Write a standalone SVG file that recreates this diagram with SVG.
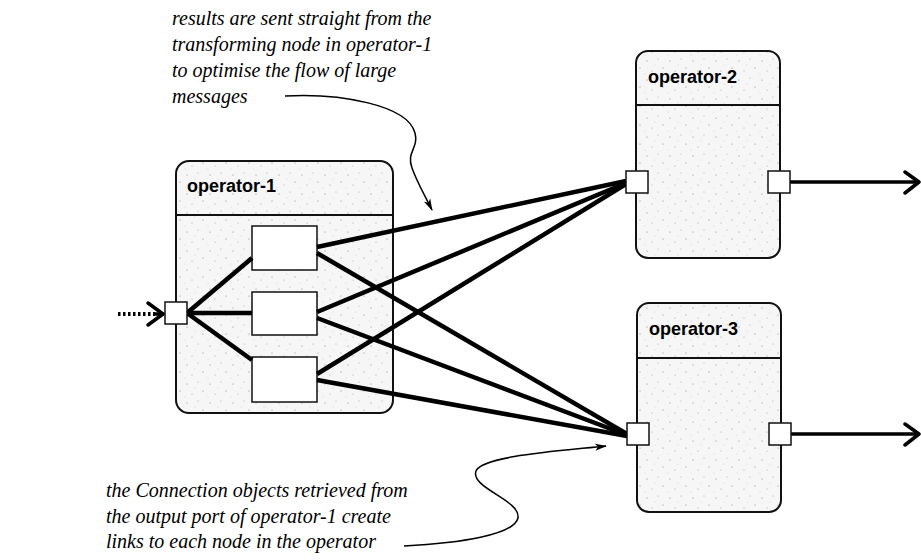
<svg xmlns="http://www.w3.org/2000/svg" width="921" height="560" viewBox="0 0 921 560">
<defs>
<pattern id="stip" width="23" height="19" patternUnits="userSpaceOnUse">
<rect width="23" height="19" fill="#f6f6f6"/>
<circle cx="3" cy="4" r="0.6" fill="#8a8a8a"/>
<circle cx="14" cy="2" r="0.5" fill="#a0a0a0"/>
<circle cx="19" cy="11" r="0.6" fill="#8a8a8a"/>
<circle cx="8" cy="14" r="0.5" fill="#999"/>
<circle cx="11" cy="8" r="0.4" fill="#b0b0b0"/>
<circle cx="1" cy="17" r="0.4" fill="#b0b0b0"/>
</pattern>
<marker id="ah" markerWidth="12" markerHeight="8" refX="11" refY="4" orient="auto" markerUnits="userSpaceOnUse">
<path d="M0,0.5 L12,4 L0,7.5 L3,4 Z" fill="#000"/>
</marker>
<style>
.op{fill:url(#stip);stroke:#111;stroke-width:2}
.div{stroke:#111;stroke-width:2}
.title{font-family:"Liberation Sans",Arial,sans-serif;font-weight:bold;font-size:18px;fill:#000}
.port{fill:#fff;stroke:#111;stroke-width:1.5}
.inner{fill:#fff;stroke:#111;stroke-width:1.5}
.conn{stroke:#000;stroke-width:4.5;fill:none}
.arrow{stroke:#000;stroke-width:3.5;fill:none;stroke-linecap:round;stroke-linejoin:round}
.note{font-family:"Liberation Serif","Times New Roman",serif;font-style:italic;font-size:20px;fill:#000}
.lead{stroke:#000;stroke-width:1.5;fill:none}
</style>
</defs>
<rect width="921" height="560" fill="#fff"/>

<g id="operator-1">
<rect class="op" x="176" y="161" width="217" height="252" rx="13"/>
<line class="div" x1="176" y1="215" x2="393" y2="215"/>
<text class="title" x="187" y="192">operator-1</text>
<rect class="inner" x="252" y="226" width="65" height="44"/>
<rect class="inner" x="252" y="292" width="65" height="43"/>
<rect class="inner" x="252" y="357" width="65" height="45"/>
</g>

<g id="operator-2">
<rect class="op" x="636" y="51" width="144" height="207" rx="12"/>
<line class="div" x1="636" y1="105" x2="780" y2="105"/>
<text class="title" x="648" y="83">operator-2</text>
</g>

<g id="operator-3">
<rect class="op" x="637" y="303" width="144" height="209" rx="12"/>
<line class="div" x1="637" y1="358" x2="781" y2="358"/>
<text class="title" x="649" y="335">operator-3</text>
</g>

<g id="connectors">
<line x1="118" y1="314" x2="156" y2="314" stroke="#000" stroke-width="4" stroke-dasharray="2.5 2.5"/>
<line class="arrow" x1="156" y1="314" x2="163" y2="314"/>
<polyline class="arrow" points="148,303 163,314 148,325"/>
<line class="conn" x1="187" y1="313" x2="252" y2="258"/>
<line class="conn" x1="187" y1="313" x2="252" y2="313"/>
<line class="conn" x1="187" y1="313" x2="252" y2="360"/>
<line class="conn" x1="317" y1="247" x2="626" y2="181"/>
<line class="conn" x1="317" y1="253" x2="627" y2="434"/>
<line class="conn" x1="317" y1="312" x2="626" y2="183"/>
<line class="conn" x1="317" y1="318" x2="627" y2="435"/>
<line class="conn" x1="317" y1="374" x2="626" y2="184"/>
<line class="conn" x1="317" y1="380" x2="627" y2="436"/>
<line class="arrow" x1="791" y1="182" x2="918" y2="182"/>
<polyline class="arrow" points="905,172 919,182 905,193"/>
<line class="arrow" x1="792" y1="434" x2="918" y2="434"/>
<polyline class="arrow" points="905,424 919,434 905,445"/>
</g>

<g id="ports">
<rect class="port" x="165" y="302" width="22" height="22"/>
<rect class="port" x="626" y="171" width="22" height="22"/>
<rect class="port" x="768" y="171" width="22" height="22"/>
<rect class="port" x="627" y="423" width="22" height="22"/>
<rect class="port" x="769" y="423" width="22" height="22"/>
</g>

<g id="note-top">
<text class="note" x="172" y="25">results are sent straight from the</text>
<text class="note" x="172" y="51">transforming node in operator-1</text>
<text class="note" x="172" y="77">to optimise the flow of large</text>
<text class="note" x="172" y="103">messages</text>
<path class="lead" d="M285,96 C340,93 408,105 415,133 C419,148 406,152 412,168 C417,182 423,192 432,210" marker-end="url(#ah)"/>
</g>

<g id="note-bottom">
<text class="note" x="106" y="497">the Connection objects retrieved from</text>
<text class="note" x="106" y="523">the output port of operator-1 create</text>
<text class="note" x="106" y="548">links to each node in the operator</text>
<path class="lead" d="M404,546 C460,543 514,535 518,518 C521,500 470,488 476,471 C482,456 560,451 606,446" marker-end="url(#ah)"/>
</g>
</svg>
